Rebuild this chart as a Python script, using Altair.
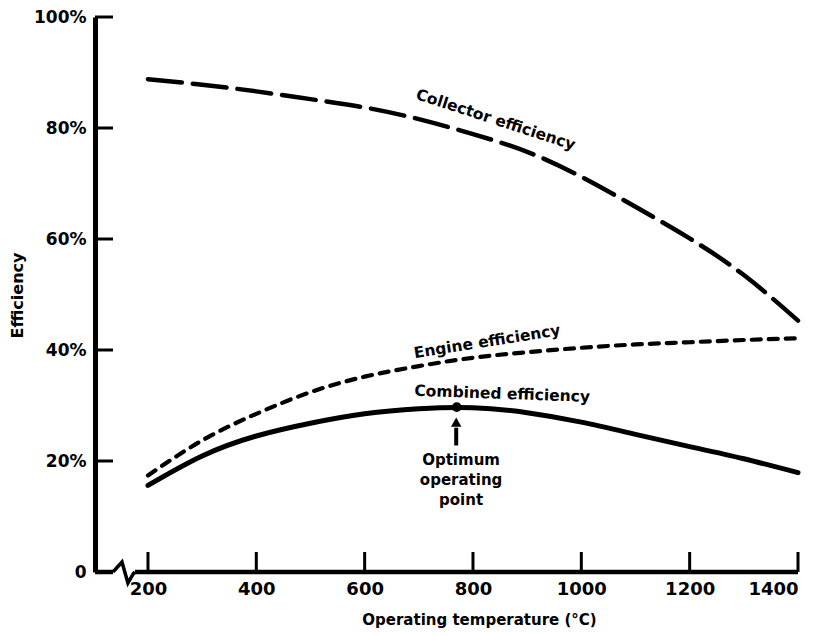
import altair as alt
import pandas as pd

# ---- data ----
temps = [200, 300, 400, 500, 600, 700, 800, 900, 1000, 1100, 1200, 1300, 1400]
collector = [88.8, 87.8, 86.6, 85.2, 83.7, 81.6, 78.9, 75.7, 71.2, 65.8, 60.1, 53.5, 45.3]
engine = [17.4, 23.7, 28.5, 32.4, 35.2, 37.1, 38.6, 39.6, 40.4, 41.0, 41.4, 41.8, 42.1]
combined = [15.6, 20.9, 24.5, 26.8, 28.5, 29.4, 29.6, 28.7, 27.0, 24.8, 22.6, 20.4, 17.9]

x_ticks = [200, 400, 600, 800, 1000, 1200, 1400]
y_ticks = [20, 40, 60, 80, 100]
y_labels = [0, 20, 40, 60, 80, 100]

opt_temp = 770
opt_eff = 29.7

# axis range (x axis starts left of 200 with a break)
x_min, x_max = 102.2, 1400
break_start, break_end = 135.4, 176
break_x = [135.4, 152, 163, 173, 176]
break_y = [0, 1.8, -2.0, -0.3, 0]

W, H = 703, 555
FONT = "DejaVu Sans"

xs = alt.Scale(domain=[x_min, x_max], nice=False, zero=False)
ys = alt.Scale(domain=[0, 100], nice=False, zero=False)

curves = pd.DataFrame({"t": temps, "collector": collector,
                       "engine": engine, "combined": combined})

XA = alt.Axis(values=x_ticks, format="d", domain=False, ticks=False, tickSize=0, grid=False,
              labelFont=FONT, labelFontSize=18, labelFontWeight="bold",
              labelColor="black", labelPadding=8,
              title="Operating temperature (°C)", titleFont=FONT,
              titleFontSize=15, titleFontWeight="bold", titleColor="black",
              titleX=384, titleY=47, titleBaseline="middle", titleAlign="center")
YA = alt.Axis(values=y_labels, domain=True, domainColor="black", domainWidth=5,
              ticks=False, tickSize=0, grid=False,
              labelExpr="datum.value == 0 ? '0' : datum.value + '%'",
              labelFont=FONT, labelFontSize=17, labelFontWeight="bold",
              labelColor="black", labelPadding=9, labelBaseline="middle",
              title="Efficiency", titleFont=FONT, titleFontSize=16,
              titleFontWeight="bold", titleColor="black", titleAngle=270,
              titleX=-78, titleY=278, titleBaseline="middle", titleAlign="center")

def X(field=None, datum=None):
    if datum is not None:
        return alt.X(datum=datum, scale=xs, axis=XA, title="Operating temperature (°C)")
    return alt.X(field, scale=xs, axis=XA, title="Operating temperature (°C)")

def Y(field=None, datum=None):
    if datum is not None:
        return alt.Y(datum=datum, scale=ys, axis=YA, title="Efficiency")
    return alt.Y(field, scale=ys, axis=YA, title="Efficiency")

base = alt.Chart(curves)

collector_line = base.mark_line(color="black", strokeWidth=4.5, strokeDash=[34, 11],
                                strokeCap="round", interpolate="natural").encode(
    x=X("t:Q"), y=Y("collector:Q"))
engine_line = base.mark_line(color="black", strokeWidth=4.2, strokeDash=[9, 8],
                             strokeCap="round", interpolate="natural").encode(
    x=X("t:Q"), y=Y("engine:Q"))
combined_line = base.mark_line(color="black", strokeWidth=5,
                               strokeCap="round", interpolate="natural").encode(
    x=X("t:Q"), y=Y("combined:Q"))

# x ticks pointing up into the plot
xt = alt.Chart(pd.DataFrame({"t": x_ticks})).mark_rule(color="black", strokeWidth=3).encode(
    x=X("t:Q"), y=alt.value(H), y2=alt.value(H - 20))
# y ticks pointing right into the plot
yt = alt.Chart(pd.DataFrame({"v": y_ticks})).mark_rule(color="black", strokeWidth=3).encode(
    y=Y("v:Q"), x=alt.value(0), x2=alt.value(18))
# broken x baseline
baseline = alt.Chart(pd.DataFrame({"a": [x_min, break_end], "b": [break_start, x_max]})).mark_rule(
    color="black", strokeWidth=4.5).encode(
    x=X("a:Q"), x2="b:Q", y=alt.value(H))
zig = alt.Chart(pd.DataFrame({"x": break_x, "y": break_y, "o": list(range(len(break_x)))})).mark_line(
    color="black", strokeWidth=3.5, strokeJoin="miter").encode(
    x=X("x:Q"), y=Y("y:Q"), order="o:Q")

one = alt.Data(values=[{}])

def label(text, t, e, angle, size=15.5, baseline="middle", **kw):
    return alt.Chart(one).mark_text(text=text, angle=angle, font=FONT, fontSize=size,
                                    fontWeight="bold", color="black", align="center",
                                    baseline=baseline, **kw).encode(
        x=X(datum=t), y=Y(datum=e))

lab_collector = label("Collector efficiency", 842, 81.5, 18)
lab_engine = label("Engine efficiency", 826, 41.5, 351)
lab_combined = label("Combined efficiency", 854, 32.1, 2)
lab_opt = label("Optimum\noperating\npoint", 778, 21.5, 0, size=15, baseline="top",
                lineBreak="\n", lineHeight=20)

arrow_shaft = alt.Chart(one).mark_rule(color="black", strokeWidth=4).encode(
    x=X(datum=769), y=Y(datum=22.8), y2=alt.Y2(datum=26.0))
arrow_head = alt.Chart(one).mark_point(shape="triangle-up", filled=True, color="black",
                                       size=110, opacity=1).encode(
    x=X(datum=769), y=Y(datum=27.0))
opt_dot = alt.Chart(pd.DataFrame({"t": [opt_temp], "e": [opt_eff]})).mark_point(
    shape="circle", filled=True, color="black", size=95, opacity=1).encode(
    x=X("t:Q"), y=Y("e:Q"))

chart = alt.layer(
    collector_line, engine_line, combined_line, xt, yt, baseline, zig,
    lab_collector, lab_engine, lab_combined, lab_opt, arrow_shaft, arrow_head, opt_dot,
).properties(
    width=W, height=H,
    padding={"left": 87, "top": 9, "right": 17, "bottom": 56},
    autosize=alt.AutoSizeParams(type="none"),
    background="white",
).configure_view(stroke=None)

chart.save("out.html", embed_options={"renderer": "svg", "actions": False})
